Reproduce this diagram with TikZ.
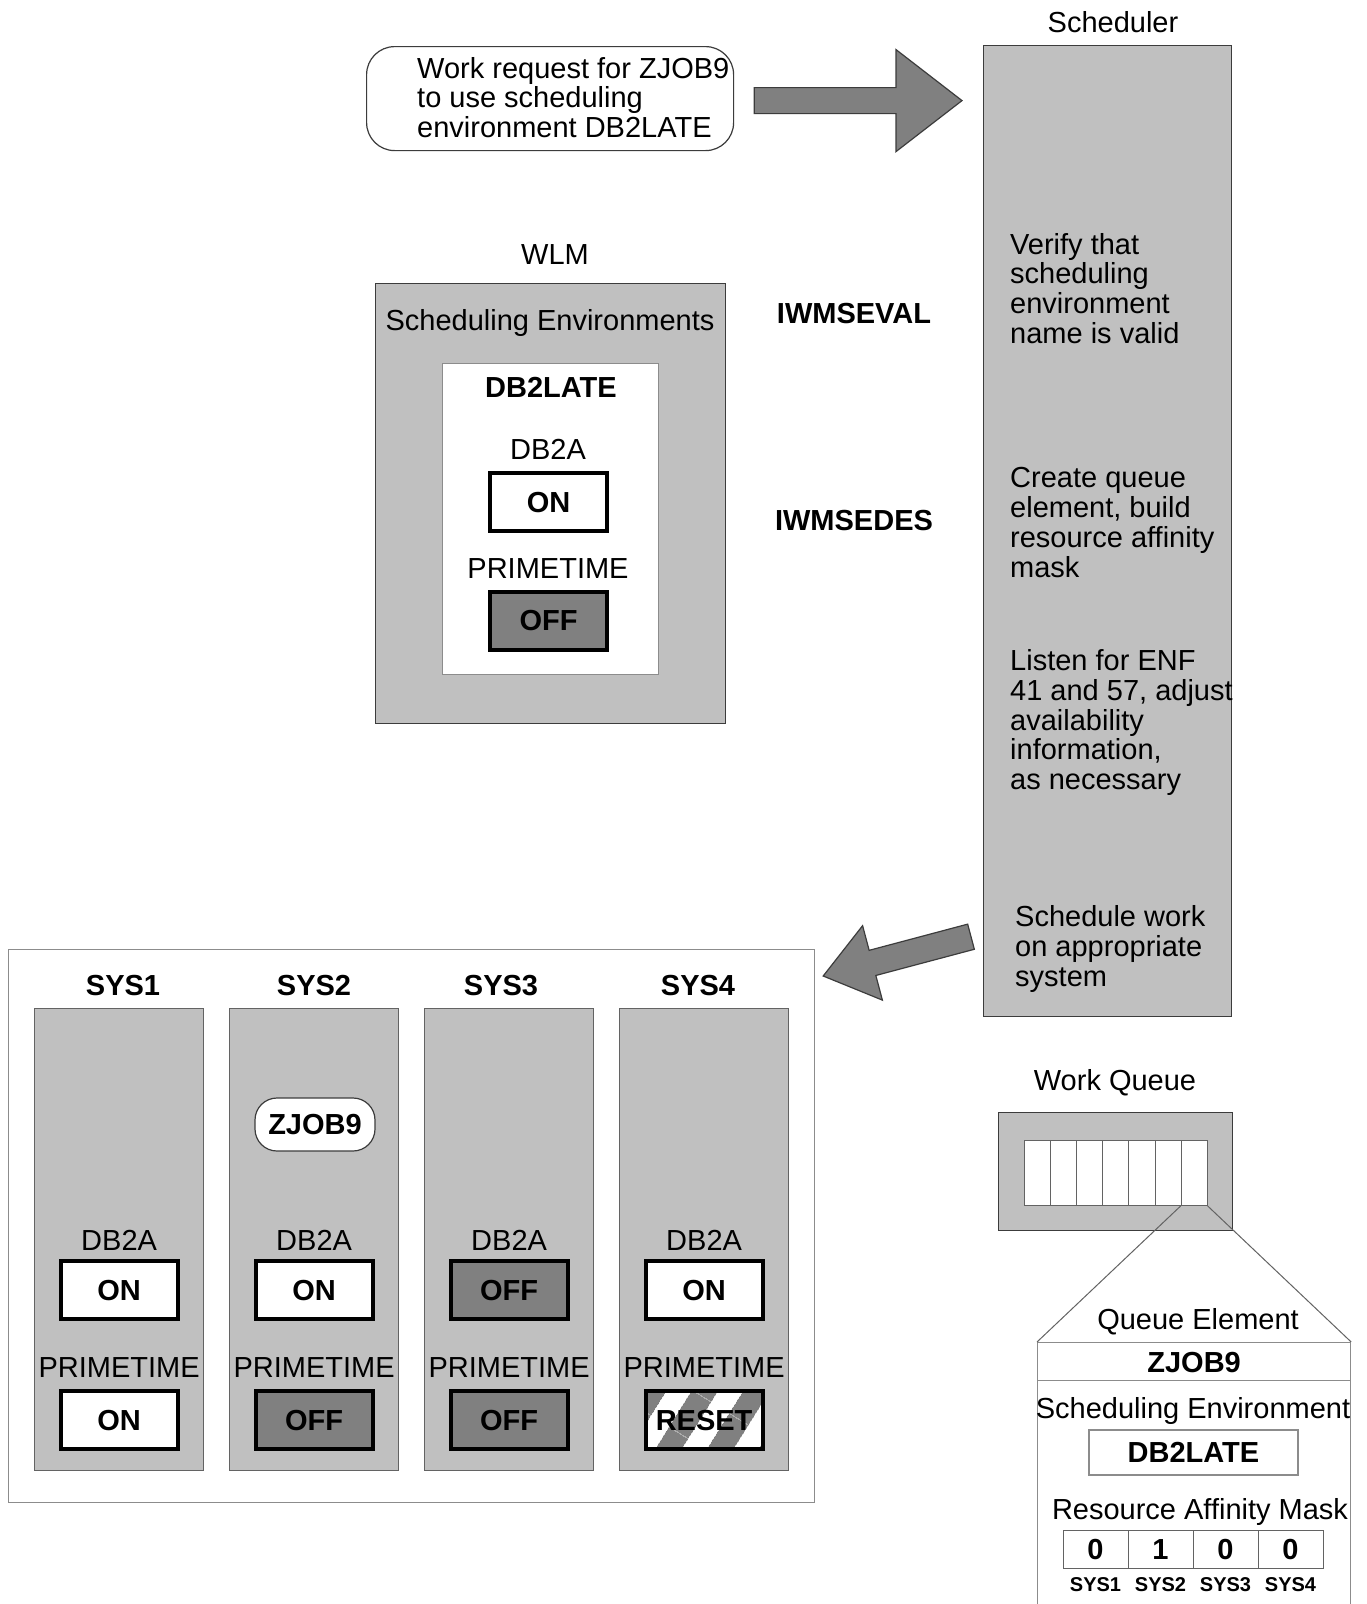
\documentclass[tikz,border=0pt]{standalone}
\usepackage{fontspec}
\setmainfont{Liberation Sans}
\usetikzlibrary{positioning,calc,patterns.meta}

\definecolor{lgray}{HTML}{C0C0C0}
\definecolor{dgray}{HTML}{808080}
\definecolor{edge}{HTML}{3C3C3C}
\definecolor{thin}{HTML}{8C8C8C}

% fat block arrow between two named points: from, to, half body, head length, half head
\newcommand\fatarrow[5]{%
  \coordinate (fa-base) at ($(#2)!#4!(#1)$);
  \filldraw[fill=dgray, draw=edge, line width=1.2pt]
    ($(#1)!#3!90:(#2)$) -- ($(fa-base)!#3!-90:(#1)$) -- ($(fa-base)!#5!-90:(#1)$) -- (#2)
    -- ($(fa-base)!#5!90:(#1)$) -- ($(fa-base)!#3!90:(#1)$) -- ($(#1)!#3!-90:(#2)$) -- cycle;}

\begin{document}
\begin{tikzpicture}[x=1pt, y=-1pt,
  txt/.style={inner sep=0pt, text height=20.8pt, text depth=0pt, font=\fontsize{29}{29.7}\selectfont},
  btxt/.style={txt, font=\fontsize{29}{29.7}\selectfont\bfseries},
  masktxt/.style={inner sep=0pt, text height=14.3pt, text depth=0pt, font=\fontsize{20}{22}\selectfont\bfseries},
  para/.style={inner sep=0pt, align=left, anchor=north west, font=\fontsize{29}{29.7}\selectfont},
  panel/.style={draw=edge, line width=1.2pt, fill=lgray, inner sep=0pt, anchor=north west},
  sheet/.style={draw=thin, line width=1.2pt, fill=white, inner sep=0pt, anchor=north west},
  onbox/.style={btxt, draw=black, line width=4pt, fill=white, minimum width=117pt, minimum height=58pt},
  offbox/.style={onbox, fill=dgray},
  resetbox/.style={onbox, preaction={fill=white}, pattern={Lines[angle=58,distance=44pt,line width=23pt]}, pattern color=dgray},
  slot/.style={draw=edge!80, line width=1pt, fill=white, anchor=north west, minimum width=26.1pt, minimum height=65pt, inner sep=0pt},
  maskcell/.style={btxt, draw=edge!80, line width=1pt, minimum width=65pt, minimum height=38pt}]
\useasboundingbox (0,0) rectangle (1367,1604);
\fill[white] (0,0) rectangle (1367,1604);

% request
\node[sheet, draw=edge, rounded corners=28pt, minimum width=367pt, minimum height=104pt] (req) at (366,46) {};
\node[para] (reqtxt) at (417,57) {Work request for ZJOB9\\to use scheduling\\environment DB2LATE};

% scheduler
\node[txt] (schedlbl) at (1113,22) {Scheduler};
\node[panel, minimum width=248pt, minimum height=971pt] (sched) at (983,45) {};
\node[para] (verify) at (1010,233) {Verify that\\scheduling\\environment\\name is valid};
\node[para] (create) at (1010,467.5) {Create queue\\element, build\\resource affinity\\mask};
\node[para] (listen) at (1010,649.5) {Listen for ENF\\41 and 57, adjust\\availability\\information,\\as necessary};
\node[para] (dispatch) at (1015,905.5) {Schedule work\\on appropriate\\system};

% WLM
\node[txt] (wlmlbl) at (555,254) {WLM};
\node[panel, minimum width=350pt, minimum height=440pt] (wlm) at (375,283) {};
\node[txt] (envs) at (550,320) {Scheduling Environments};
\node[sheet, minimum width=216pt, minimum height=311pt] (envcard) at (442,363) {};
\node[btxt] (envname) at (551,387) {DB2LATE};
\node[txt] (wlmdb) at (548,449) {DB2A};
\node[onbox] (wlmdbsw) at (548.5,502) {ON};
\node[txt] (wlmpt) at (548,568) {PRIMETIME};
\node[offbox] (wlmptsw) at (548.5,620.5) {OFF};
\node[btxt] (eval) at (854,313) {IWMSEVAL};
\node[btxt] (edes) at (854,520) {IWMSEDES};

% systems
\node[sheet, minimum width=806pt, minimum height=553pt] (systems) at (8,949) {};
\foreach \n/\lx/\sa/\ta/\sb/\tb in {1/123/onbox/ON/onbox/ON, 2/314/onbox/ON/offbox/OFF,
    3/501/offbox/OFF/offbox/OFF, 4/698/onbox/ON/resetbox/RESET}{
  \node[btxt] (lbl\n) at (\lx,985) {SYS\n};
  \node[panel, draw=edge!80, minimum width=169pt, minimum height=462pt] (sys\n) at ({34+195*(\n-1)},1008) {};
  \node[txt] (dbl\n) at ($(sys\n.north)+(0,232)$) {DB2A};
  \node[\sa] (db\n) at ($(sys\n.north)+(0,282)$) {\ta};
  \node[txt] (ptl\n) at ($(sys\n.north)+(0,359)$) {PRIMETIME};
  \node[\sb] (pt\n) at ($(sys\n.north)+(0,412)$) {\tb};
}
\node[sheet, draw=edge, rounded corners=22pt, minimum width=120pt, minimum height=53pt, btxt, anchor=center] (job) at (315,1124.5) {ZJOB9};

% work queue
\node[txt] (wqlbl) at (1115,1080) {Work Queue};
\node[panel, minimum width=234pt, minimum height=118pt] (wq) at (998,1112) {};
\foreach \i in {1,...,7}
  \node[slot] (slot\i) at ({1024+26.1*(\i-1)},1140) {};

% queue element
\node[txt] (qelbl) at (1198,1319) {Queue Element};
\node[sheet, btxt, anchor=north west, minimum width=313pt, minimum height=38pt] (qejob) at (1037,1342) {ZJOB9};
\node[sheet, minimum width=313pt, minimum height=230pt] (qe) at (1037,1380) {};
\draw[edge!80, line width=1pt] (slot7.south west) -- (qejob.north west);
\draw[edge!80, line width=1pt] (slot7.south east) -- (qejob.north east);
\node[txt] (qeenv) at (1193,1408) {Scheduling Environment};
\node[sheet, btxt, anchor=center, minimum width=209pt, minimum height=45pt] (qeenvname) at (1193.5,1452.5) {DB2LATE};
\node[txt] (qemask) at (1200,1509) {Resource Affinity Mask};
\foreach \b [count=\i] in {0,1,0,0}{
  \node[maskcell] (bit\i) at ({1095.5+65*(\i-1)},1549) {\b};
  \node[masktxt, below=8pt of bit\i] (bitlbl\i) {SYS\i};
}

% arrows
\coordinate (reqout) at ($(req.east)+(20,2)$);
\coordinate (schedin) at ($(req.east -| sched.west)+(-21,2)$);
\fatarrow{reqout}{schedin}{13pt}{66pt}{51pt}
\coordinate (schedout) at ($(sched.south west)+(-12,-80.5)$);
\coordinate (sysin) at ($(systems.north east)+(8,27)$);
\fatarrow{schedout}{sysin}{13pt}{51pt}{38.5pt}
\end{tikzpicture}
\end{document}
